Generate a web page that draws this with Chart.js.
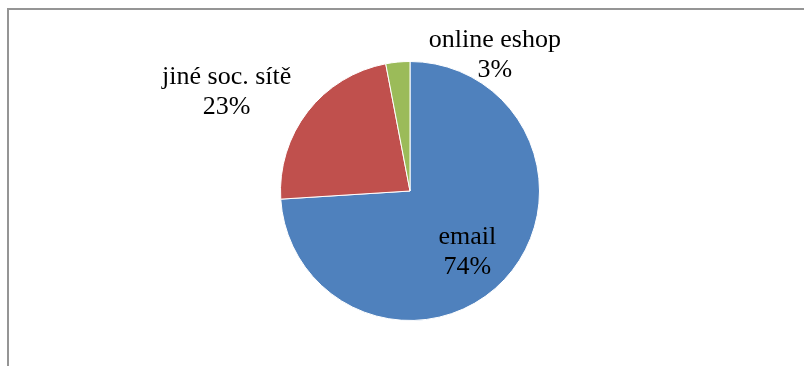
<!DOCTYPE html>
<html>
<head>
<meta charset="utf-8">
<script src="https://cdn.jsdelivr.net/npm/chart.js@4"></script>
<style>
  html, body { margin: 0; padding: 0; background: #fff; overflow: hidden; }
  #wrap { position: relative; width: 804px; height: 366px; }
  #frame { position: absolute; left: 7px; top: 8px; width: 900px; height: 500px;
           border-top: 2px solid #959595; border-left: 2px solid #959595; }
  canvas { position: absolute; left: 0; top: 0; }
</style>
</head>
<body>
<div id="wrap">
  <div id="frame"></div>
  <canvas id="pie" width="804" height="366"></canvas>
</div>
<script>
// channels and their share (%)
var categories = ['email', 'jiné soc. sítě', 'online eshop'];
var shares = [74, 23, 3];
var sliceColors = ['#4F81BD', '#C0504D', '#9BBB59'];

// where each label sits relative to its slice
var labelPlace = [
    { f: 0.64, dx: -3, dy: 4 },
    { f: 1.0, dx: -81, dy: -19 },
    { f: 1.0, dx: 97, dy: -7 }
];

var sliceLabels = {
    id: 'sliceLabels',
    afterDatasetsDraw: function(chart) {
        var ctx = chart.ctx;
        var meta = chart.getDatasetMeta(0);
        ctx.save();
        ctx.font = '26px "Liberation Serif", "Times New Roman", serif';
        ctx.fillStyle = '#000';
        ctx.textAlign = 'center';
        ctx.textBaseline = 'middle';
        meta.data.forEach(function(arc, i) {
            var p = arc.getProps(['x', 'y', 'startAngle', 'endAngle', 'outerRadius'], true);
            var mid = (p.startAngle + p.endAngle) / 2;
            var pl = labelPlace[i];
            var x = p.x + Math.cos(mid) * p.outerRadius * pl.f + pl.dx;
            var y = p.y + Math.sin(mid) * p.outerRadius * pl.f + pl.dy;
            ctx.fillText(categories[i], x, y - 15);
            ctx.fillText(shares[i] + '%', x, y + 15);
        });
        ctx.restore();
    }
};

var config = {
    type: 'pie',
    data: {
        labels: categories,
        datasets: [{
            data: shares,
            backgroundColor: sliceColors,
            borderColor: '#ffffff',
            borderWidth: 1
        }]
    },
    options: {
        responsive: false,
        animation: false,
        layout: { padding: { top: 61, bottom: 45, left: 20, right: 4 } },
        plugins: {
            legend: { display: false },
            tooltip: { enabled: false }
        }
    },
    plugins: [sliceLabels]
};

window.chart = new Chart(document.getElementById('pie').getContext('2d'), config);
</script>
</body>
</html>
